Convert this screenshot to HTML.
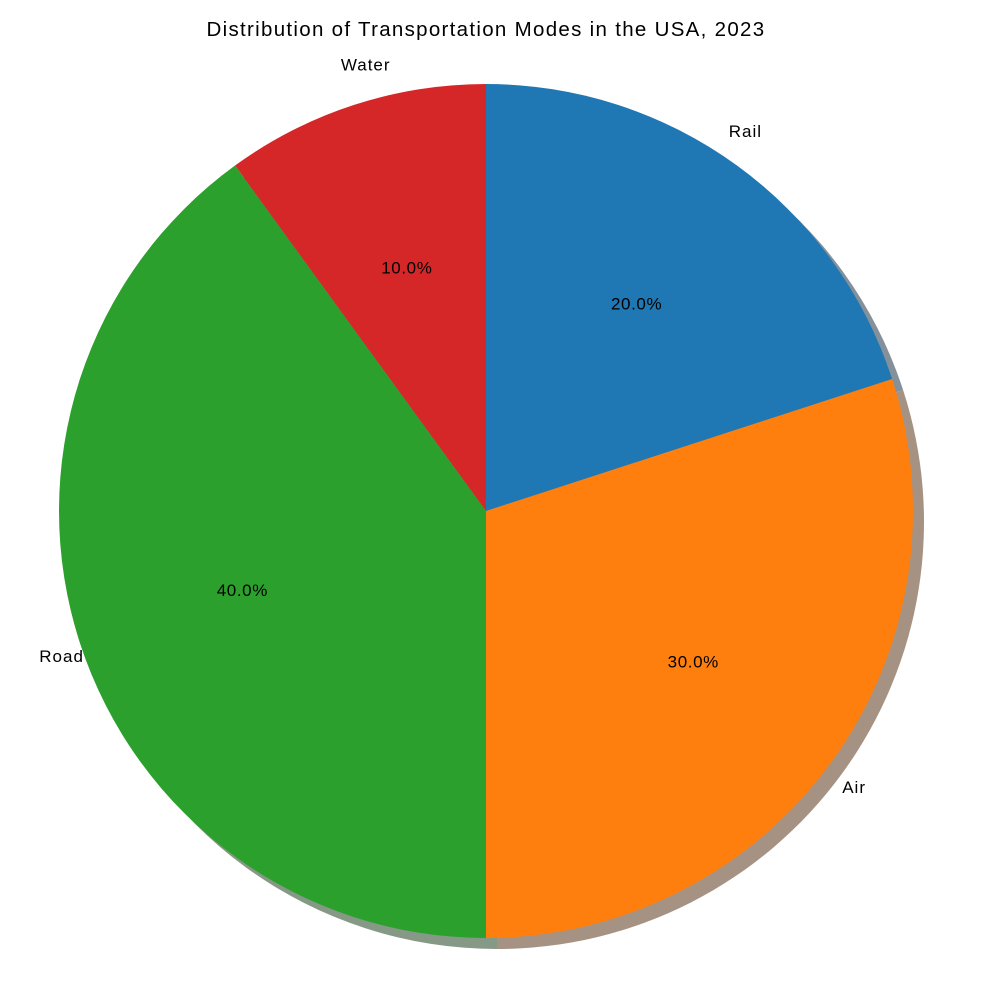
<!DOCTYPE html>
<html><head><meta charset="utf-8"><style>
html,body{margin:0;padding:0;background:#fff;}
svg{display:block;font-family:"Liberation Sans",Arial,sans-serif;}
</style></head><body>
<svg id="chart" width="1000" height="1000" viewBox="0 0 1000 1000">
<rect width="1000" height="1000" fill="#fff"/>
<text x="486" y="36" font-size="20.5" letter-spacing="1.3" text-anchor="middle" fill="#000">Distribution of Transportation Modes in the USA, 2023</text>
<g id="shadows"></g>
<g id="wedges"></g>
<g id="labels"></g>
</svg>
<script>
const categories = ["Rail", "Air", "Road", "Water"];
const values = [20, 30, 40, 10];
const colors = ["#1f77b4", "#ff7f0e", "#2ca02c", "#d62728"];
const shadowColors = ["#84919b", "#a69282", "#869886", "#a89090"];

const cx = 486, cy = 511, R = 427, shOff = 11;
const NS = "http://www.w3.org/2000/svg";
const total = values.reduce((a, b) => a + b, 0);

function pt(angDeg, r, ox, oy) {
  const a = angDeg * Math.PI / 180;
  return [cx + ox + r * Math.cos(a), cy + oy - r * Math.sin(a)];
}
function wedgePath(a1, a2, ox, oy) {
  const p1 = pt(a1, R, ox, oy), p2 = pt(a2, R, ox, oy);
  const large = (a1 - a2) > 180 ? 1 : 0;
  return `M${cx + ox},${cy + oy} L${p1[0]},${p1[1]} A${R},${R} 0 ${large} 1 ${p2[0]},${p2[1]} Z`;
}

const sh = document.getElementById("shadows");
const wg = document.getElementById("wedges");
const lb = document.getElementById("labels");
let start = 90;
values.forEach((v, i) => {
  const sweep = v / total * 360;
  const end = start - sweep;
  const mid = (start + end) / 2;

  const s = document.createElementNS(NS, "path");
  s.setAttribute("d", wedgePath(start, end, shOff, shOff));
  s.setAttribute("fill", shadowColors[i]);
  
  
  sh.appendChild(s);

  const w = document.createElementNS(NS, "path");
  w.setAttribute("d", wedgePath(start, end, 0, 0));
  w.setAttribute("fill", colors[i]);
  
  
  wg.appendChild(w);

  const lp = pt(mid, R * 1.1, 0, 0);
  const t = document.createElementNS(NS, "text");
  t.setAttribute("x", lp[0]);
  t.setAttribute("y", lp[1] + 6);
  t.setAttribute("font-size", "17");
  t.setAttribute("letter-spacing", "1");
  t.setAttribute("text-anchor", Math.cos(mid * Math.PI / 180) > 0 ? "end" : "start");
  t.textContent = categories[i];
  
  
  lb.appendChild(t);

  const pp = pt(mid, R * 0.6, 0, 0);
  const p = document.createElementNS(NS, "text");
  p.setAttribute("x", pp[0]);
  p.setAttribute("y", pp[1] + 6);
  p.setAttribute("font-size", "17");
  p.setAttribute("letter-spacing", "0.6");
  p.setAttribute("text-anchor", "middle");
  p.textContent = (v / total * 100).toFixed(1) + "%";
  
  
  lb.appendChild(p);

  start = end;
});
</script>
</body></html>
